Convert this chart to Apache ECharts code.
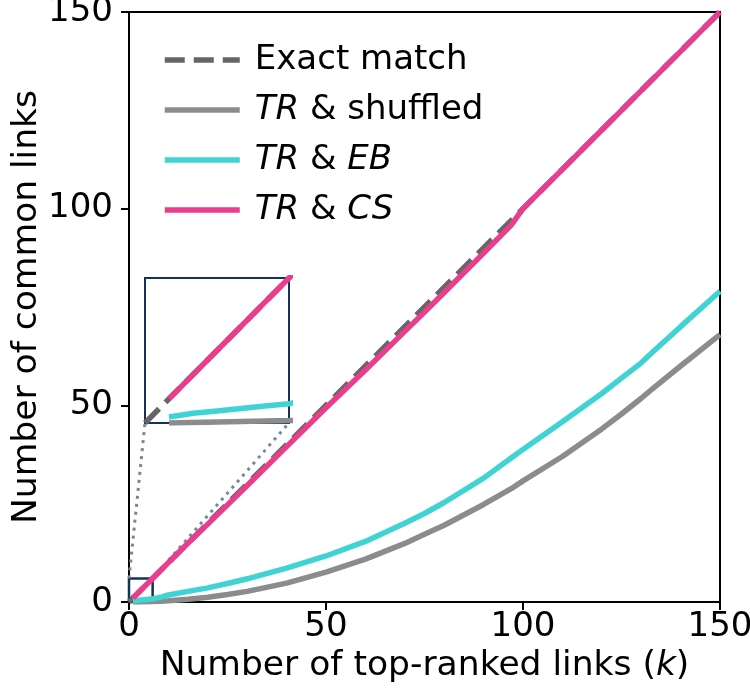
<!DOCTYPE html>
<html><head><meta charset="utf-8">
<script src="https://cdn.jsdelivr.net/npm/echarts@6/dist/echarts.min.js"></script>
<style>html,body{margin:0;padding:0;background:#fff}#c{width:750px;height:700px}</style>
</head><body><div id="c"></div>
<script>
// ---- data ----
const kValues   = [1,2,3,4,5,6,8,10,15,20,25,30,40,50,60,70,75,80,90,97,100,110,120,125,130,133,140,150];
const shuffledV = [0.0,0.02,0.04,0.06,0.08,0.1,0.18,0.3,0.7,1.2,1.9,2.7,4.8,7.6,10.9,14.9,17.2,19.5,24.8,28.8,30.8,37.0,44.0,47.8,51.8,54.3,60.0,68.0];
const ebV       = [0.25,0.4,0.5,0.6,0.7,0.8,1.2,1.8,2.7,3.6,4.7,5.9,8.6,11.7,15.4,20.0,22.5,25.3,31.5,36.6,38.8,45.8,53.0,56.9,60.8,63.6,70.0,79.0];
const csV       = [1,2,3,4,5,6,8,10,15,19.8,24.7,29.6,39.5,49.4,59.0,68.8,73.7,78.7,88.7,95.8,100,110,120,125,130,133,140,150];
const exactK    = [0,150];
const exactV    = [0,150];
const insetRange = [0,6];
const seriesNames = ['Exact match','TR & shuffled','TR & EB','TR & CS'];
const legendLabels = ['Exact match','{i|TR} & shuffled','{i|TR} & {i|EB}','{i|TR} & {i|CS}'];
const colors = ['#666666','#8c8c8c','#40d3d3','#e93d8d'];

const FONT = 'DejaVu Sans';
const FS_TICK = 34;
const FS_TITLE = 34.5;
const FS_LEG = 34;
function pairs(xs, ys){ return xs.map((x,i)=>[x,ys[i]]); }

const lineW = 5.5;
const dash = [20,9];
function makeSeries(gi){
  return [
    {name:seriesNames[0], type:'line', xAxisIndex:gi, yAxisIndex:gi, data:pairs(exactK,exactV), symbol:'none', showSymbol:false,
     lineStyle:{color:colors[0], width:lineW, type:dash}, itemStyle:{color:colors[0]}, z:2,
     markArea: gi===0 ? {silent:true, itemStyle:{color:'rgba(0,0,0,0)', borderColor:'#14325a', borderWidth:2.5},
        data:[[{coord:[insetRange[0],insetRange[0]]},{coord:[insetRange[1],insetRange[1]]}]]} : undefined},
    {name:seriesNames[1], type:'line', xAxisIndex:gi, yAxisIndex:gi, data:pairs(kValues,shuffledV), symbol:'none', showSymbol:false,
     lineStyle:{color:colors[1], width:lineW}, itemStyle:{color:colors[1]}, z:3},
    {name:seriesNames[2], type:'line', xAxisIndex:gi, yAxisIndex:gi, data:pairs(kValues,ebV), symbol:'none', showSymbol:false,
     lineStyle:{color:colors[2], width:lineW}, itemStyle:{color:colors[2]}, z:4},
    {name:seriesNames[3], type:'line', xAxisIndex:gi, yAxisIndex:gi, data:pairs(kValues,csV), symbol:'none', showSymbol:false,
     lineStyle:{color:colors[3], width:lineW}, itemStyle:{color:colors[3]}, z:5}
  ];
}

const chart = echarts.init(document.getElementById('c'), null, {renderer:'canvas'});
const axisCommon = {
  axisLine:{show:true, onZero:false, lineStyle:{color:'#000', width:2}},
  axisTick:{show:true, length:8, lineStyle:{color:'#000', width:2}},
  splitLine:{show:false}
};
const tickLabel = {color:'#000', fontFamily:FONT, fontSize:FS_TICK};
chart.setOption({
  animation:false,
  backgroundColor:'#fff',
  textStyle:{fontFamily:FONT},
  grid:[
    {left:129, top:12, width:591, height:590, show:true, borderColor:'#000', borderWidth:2, containLabel:false, outerBoundsMode:'none'},
    {left:145, top:278, width:144, height:145, show:true, borderColor:'#14325a', borderWidth:2, backgroundColor:'#fff', z:10, outerBoundsMode:'none'}
  ],
  xAxis:[
    Object.assign({type:'value', gridIndex:0, min:0, max:150, interval:50,
      name:'Number of top-ranked links ({i|k})', nameLocation:'middle', nameGap:47, nameMoveOverlap:false,
      nameTextStyle:{color:'#000', fontFamily:FONT, fontSize:FS_TITLE, rich:{i:{fontStyle:'italic', fontFamily:FONT, fontSize:FS_TITLE, color:'#000'}}},
      axisLabel:Object.assign({margin:8}, tickLabel)
    }, axisCommon),
    {type:'value', gridIndex:1, min:insetRange[0], max:insetRange[1], show:false}
  ],
  yAxis:[
    Object.assign({type:'value', gridIndex:0, min:0, max:150, interval:50,
      name:'Number of common links', nameLocation:'middle', nameGap:84, nameMoveOverlap:false,
      nameTextStyle:{color:'#000', fontFamily:FONT, fontSize:FS_TITLE},
      axisLabel:Object.assign({margin:16}, tickLabel)
    }, axisCommon),
    {type:'value', gridIndex:1, min:insetRange[0], max:insetRange[1], show:false}
  ],
  legend:{
    orient:'vertical', left:157, top:38, itemWidth:75, itemHeight:20, itemGap:16,
    selectedMode:false,
    itemStyle:{opacity:0, borderWidth:0},
    textStyle:{color:'#000', fontFamily:FONT, fontSize:FS_LEG, lineHeight:34, padding:[0,0,0,10],
      rich:{i:{fontStyle:'italic', fontFamily:FONT, fontSize:FS_LEG, color:'#000', lineHeight:34}}},
    formatter:function(name){ return legendLabels[seriesNames.indexOf(name)]; },
    data: seriesNames.map((n,i)=>({name:n,
      itemStyle:{opacity:0, borderWidth:0},
      lineStyle:{color:colors[i], width:lineW, type: i===0 ? dash : 'solid', opacity:1}}))
  },
  series: makeSeries(0).concat(makeSeries(1).map(s=>Object.assign(s,{z:(s.z||2)+10})))
});

// dotted connectors from the zoom rectangle to the inset, positioned via the library's scales
const a1 = chart.convertToPixel({gridIndex:0}, [insetRange[0], insetRange[1]]);
const b1 = chart.convertToPixel({gridIndex:1}, [insetRange[0], insetRange[0]]);
const a2 = chart.convertToPixel({gridIndex:0}, [insetRange[1], insetRange[1]]);
const b2 = chart.convertToPixel({gridIndex:1}, [insetRange[1], insetRange[0]]);
const conStyle = {stroke:'#778899', lineWidth:3, lineDash:[3,5]};
chart.setOption({graphic:[
  {type:'line', shape:{x1:a1[0], y1:a1[1], x2:b1[0], y2:b1[1]}, style:conStyle, z:1, silent:true},
  {type:'line', shape:{x1:a2[0], y1:a2[1], x2:b2[0], y2:b2[1]}, style:conStyle, z:1, silent:true}
]});
</script>
</body></html>
